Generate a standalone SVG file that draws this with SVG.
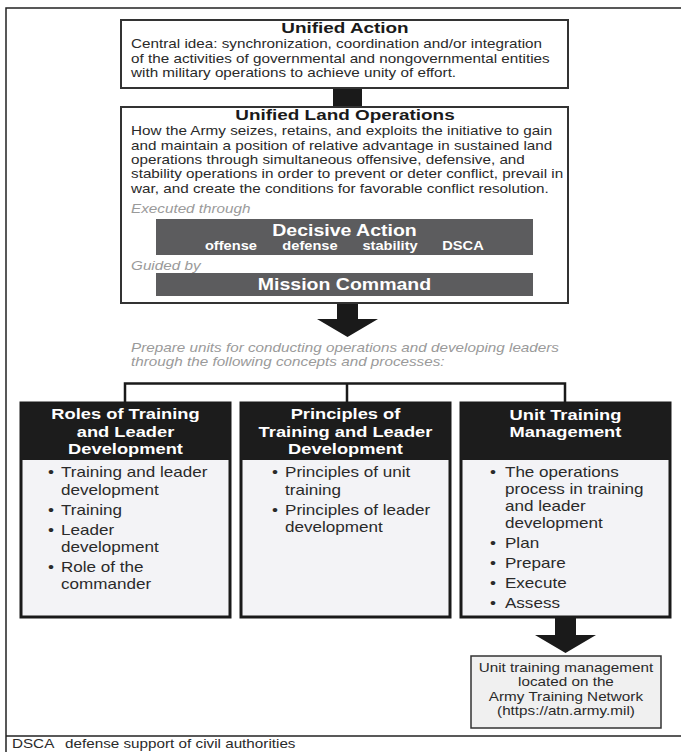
<svg xmlns="http://www.w3.org/2000/svg" width="681" height="752" viewBox="0 0 681 752">
<style>
text{font-family:"Liberation Sans",Arial,Helvetica,sans-serif;}
.t{font-size:15.5px;font-weight:bold;fill:#1a1a1a;text-anchor:middle}
.b{font-size:12.5px;fill:#2a2a2a}
.g{font-size:12.5px;fill:#9a9a9a;font-style:italic}
.w{font-size:16px;fill:#fff;font-weight:bold;text-anchor:middle}
.ws{font-size:12px;fill:#fff;font-weight:bold;text-anchor:middle}
.h{font-size:15px;font-weight:bold;fill:#fff;text-anchor:middle}
.li{font-size:14px;fill:#2a2a2a}
.c{font-size:12.5px;fill:#2a2a2a;text-anchor:middle}
.box{fill:#fff;stroke:#333;stroke-width:2}
.bar{fill:#5c5c5e}
.card{fill:#f3f3f6;stroke:#1a1a1a;stroke-width:3}
.hd{fill:#1c1c1c}
.conn{fill:none;stroke:#1a1a1a;stroke-width:2.5}
.blk{fill:#1a1a1a}
.note{fill:#f0f0f0;stroke:#333;stroke-width:1.5}
</style>
<rect x="0" y="0" width="681" height="752" fill="#fff"/>
<g id="frame">
<rect x="6" y="8" width="700" height="760" fill="none" stroke="#222" stroke-width="1.5"/>
<line x1="6" y1="736" x2="681" y2="736" stroke="#222" stroke-width="1.5"/>
</g>

<g id="connectors">
<rect class="blk" x="333" y="88" width="29" height="19"/>
<polygon class="blk" points="337,303 358,303 358,319 378,319 347.5,337 317,319 337,319"/>
<path class="conn" d="M125,403 V383.5 H565 V403 M347,383.5 V403"/>
<polygon class="blk" points="555,617 576,617 576,635 596,635 565.5,653 535,635 555,635"/>
</g>

<g id="unified-action">
<rect class="box" x="121" y="20" width="447" height="68"/>
<g transform="scale(1.22 1)">
<text class="t" x="282.8" y="33.5">Unified Action</text>
<text class="b" x="107.4" y="48.5">Central idea: synchronization, coordination and/or integration</text>
<text class="b" x="107.4" y="63">of the activities of governmental and nongovernmental entities</text>
<text class="b" x="107.4" y="77.5">with military operations to achieve unity of effort.</text>
</g>
</g>

<g id="unified-land-operations">
<rect class="box" x="121" y="107" width="447" height="196"/>
<g transform="scale(1.22 1)">
<text class="t" x="282.8" y="120.5">Unified Land Operations</text>
<text class="b" x="107.4" y="135.5">How the Army seizes, retains, and exploits the initiative to gain</text>
<text class="b" x="107.4" y="150">and maintain a position of relative advantage in sustained land</text>
<text class="b" x="107.4" y="164.5">operations through simultaneous offensive, defensive, and</text>
<text class="b" x="107.4" y="178.5">stability operations in order to prevent or deter conflict, prevail in</text>
<text class="b" x="107.4" y="193">war, and create the conditions for favorable conflict resolution.</text>
<text class="g" x="107.4" y="213">Executed through</text>
<text class="g" x="107.4" y="270">Guided by</text>
</g>
</g>

<g id="decisive-action">
<rect class="bar" x="156" y="219" width="377" height="36"/>
<g transform="scale(1.22 1)">
<text class="w" x="282.4" y="236">Decisive Action</text>
<text class="ws" x="189.3" y="250.5">offense</text>
<text class="ws" x="254.1" y="250.5">defense</text>
<text class="ws" x="319.7" y="250.5">stability</text>
<text class="ws" x="379.5" y="250.5">DSCA</text>
</g>
</g>

<g id="mission-command">
<rect class="bar" x="156" y="273" width="377" height="23"/>
<g transform="scale(1.22 1)">
<text class="w" x="282.4" y="290.5">Mission Command</text>
</g>
</g>

<g id="prepare-label">
<g transform="scale(1.22 1)">
<text class="g" x="107.4" y="352">Prepare units for conducting operations and developing leaders</text>
<text class="g" x="107.4" y="366">through the following concepts and processes:</text>
</g>
</g>

<g id="roles">
<rect class="card" x="21" y="403" width="209" height="214"/>
<rect class="hd" x="21" y="403" width="209" height="57"/>
<g transform="scale(1.22 1)">
<text class="h" x="102.9" y="419">Roles of Training</text>
<text class="h" x="102.9" y="437">and Leader</text>
<text class="h" x="102.9" y="454">Development</text>
<text class="li" x="39.3" y="477">•</text>
<text class="li" x="50" y="477">Training and leader</text>
<text class="li" x="50" y="495">development</text>
<text class="li" x="39.3" y="515">•</text>
<text class="li" x="50" y="515">Training</text>
<text class="li" x="39.3" y="535">•</text>
<text class="li" x="50" y="535">Leader</text>
<text class="li" x="50" y="552">development</text>
<text class="li" x="39.3" y="572">•</text>
<text class="li" x="50" y="572">Role of the</text>
<text class="li" x="50" y="589">commander</text>
</g>
</g>

<g id="principles">
<rect class="card" x="241" y="403" width="209" height="214"/>
<rect class="hd" x="241" y="403" width="209" height="57"/>
<g transform="scale(1.22 1)">
<text class="h" x="283.2" y="419">Principles of</text>
<text class="h" x="283.2" y="437">Training and Leader</text>
<text class="h" x="283.2" y="454">Development</text>
<text class="li" x="222.9" y="477">•</text>
<text class="li" x="233.6" y="477">Principles of unit</text>
<text class="li" x="233.6" y="495">training</text>
<text class="li" x="222.9" y="515">•</text>
<text class="li" x="233.6" y="515">Principles of leader</text>
<text class="li" x="233.6" y="532">development</text>
</g>
</g>

<g id="unit-training-management">
<rect class="card" x="461" y="403" width="209" height="214"/>
<rect class="hd" x="461" y="403" width="209" height="57"/>
<g transform="scale(1.22 1)">
<text class="h" x="463.5" y="420">Unit Training</text>
<text class="h" x="463.5" y="437">Management</text>
<text class="li" x="401.6" y="477">•</text>
<text class="li" x="413.9" y="477">The operations</text>
<text class="li" x="413.9" y="494.5">process in training</text>
<text class="li" x="413.9" y="511.5">and leader</text>
<text class="li" x="413.9" y="528.5">development</text>
<text class="li" x="401.6" y="548.5">•</text>
<text class="li" x="413.9" y="548.5">Plan</text>
<text class="li" x="401.6" y="568">•</text>
<text class="li" x="413.9" y="568">Prepare</text>
<text class="li" x="401.6" y="588">•</text>
<text class="li" x="413.9" y="588">Execute</text>
<text class="li" x="401.6" y="608">•</text>
<text class="li" x="413.9" y="608">Assess</text>
</g>
</g>

<g id="atn-note">
<rect class="note" x="471" y="656" width="190" height="72"/>
<g transform="scale(1.22 1)">
<text class="c" x="463.9" y="672">Unit training management</text>
<text class="c" x="463.9" y="686">located on the</text>
<text class="c" x="463.9" y="701">Army Training Network</text>
<text class="c" x="463.9" y="715">(https://atn.army.mil)</text>
</g>
</g>

<g id="legend">
<g transform="scale(1.22 1)">
<text class="b" x="9.8" y="748">DSCA</text>
<text class="b" x="53.3" y="748">defense support of civil authorities</text>
</g>
</g>
</svg>
